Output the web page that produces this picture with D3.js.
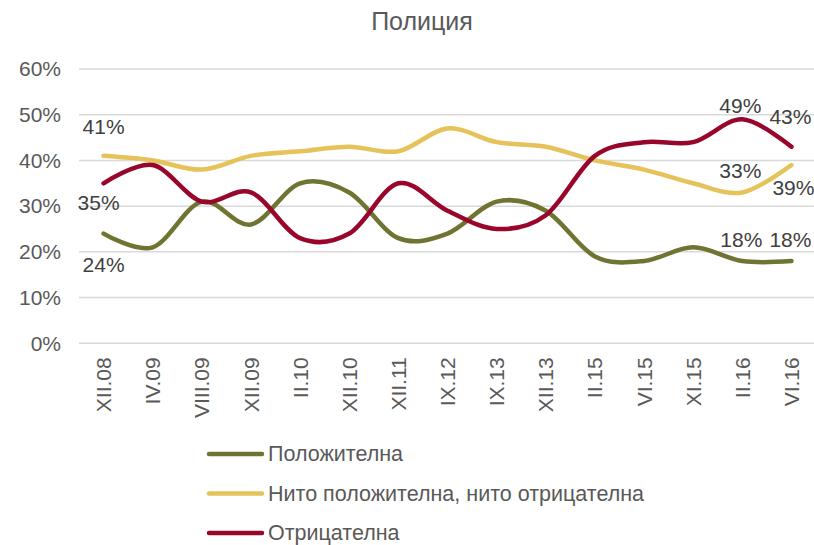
<!DOCTYPE html>
<html>
<head>
<meta charset="utf-8">
<script src="https://cdn.jsdelivr.net/npm/d3@7"></script>
<style>
  body { margin: 0; background: #fff; }
  svg { font-family: "Liberation Sans", Arial, sans-serif; }
</style>
</head>
<body>
<div id="chart"></div>
<script>
// ===== data =====
var categories = ["XII.08", "IV.09", "VIII.09", "XII.09", "II.10", "XII.10", "XII.11",
                  "IX.12", "IX.13", "XII.13", "II.15", "VI.15", "XI.15", "II.16", "VI.16"];
var positive = [24, 21, 31, 26, 35, 33, 23, 24, 31, 29, 19, 18, 21, 18, 18];
var neutral  = [41, 40, 38, 41, 42, 43, 42, 47, 44, 43, 40, 38, 35, 33, 39];
var negative = [35, 39, 31, 33, 23, 24, 35, 29, 25, 28, 41, 44, 44, 49, 43];
var seriesNames = ["Положителна", "Нито положителна, нито отрицателна", "Отрицателна"];
var yTicks = [0, 0.1, 0.2, 0.3, 0.4, 0.5, 0.6];

function draw()
{
  var w = 814;
  var h = 545;

  var colors = ["#707432", "#e5c25a", "#98072b"];
  var seriesData = [positive, neutral, negative];

  // which points get a value label, and how far the label sits from the point
  var labelSpots = [
    {s: 1, i: 0,  dx: 0,  dy: -29},
    {s: 2, i: 0,  dx: -5, dy: 19},
    {s: 0, i: 0,  dx: 0,  dy: 31},
    {s: 2, i: 13, dx: -2, dy: -14},
    {s: 2, i: 14, dx: -1, dy: -30},
    {s: 1, i: 13, dx: -2, dy: -22},
    {s: 1, i: 14, dx: 2,  dy: 22},
    {s: 0, i: 13, dx: -1, dy: -22},
    {s: 0, i: 14, dx: -1, dy: -22}
  ];

  var svg = d3.select("#chart")
              .append("svg")
              .attr("width", w)
              .attr("height", h);

  var x = d3.scaleBand()
            .domain(categories)
            .range([79, 816]);

  var y = d3.scaleLinear()
            .domain([0, 0.6])
            .range([343.3, 69]);

  function cx(i) { return x(categories[i]) + x.bandwidth() / 2; }

  // title
  svg.append("text")
     .attr("x", 422)
     .attr("y", 21)
     .attr("dy", "0.35em")
     .attr("text-anchor", "middle")
     .attr("font-size", "25px")
     .attr("fill", "#595959")
     .text("Полиция");

  // gridlines
  svg.append("g")
     .selectAll("line")
     .data(yTicks)
     .enter()
     .append("line")
     .attr("x1", 79)
     .attr("x2", 816)
     .attr("y1", function(d) { return y(d); })
     .attr("y2", function(d) { return y(d); })
     .attr("stroke", "#d9d9d9")
     .attr("stroke-width", 1.5);

  // y axis
  var yAxis = svg.append("g")
     .attr("transform", "translate(79,0)")
     .call(d3.axisLeft(y).tickValues(yTicks).tickFormat(d3.format(".0%")).tickSize(0).tickPadding(18));
  yAxis.select(".domain").remove();
  yAxis.selectAll("text")
       .attr("font-size", "21px")
       .attr("font-family", "Liberation Sans, Arial, sans-serif")
       .attr("fill", "#595959");

  // x axis, rotated labels
  var xAxis = svg.append("g")
     .attr("transform", "translate(0,343.3)")
     .call(d3.axisBottom(x).tickSize(0));
  xAxis.select(".domain").remove();
  xAxis.selectAll("text")
       .attr("transform", "rotate(-90)")
       .attr("text-anchor", "end")
       .attr("x", -14)
       .attr("y", 0)
       .attr("dy", "0.36em")
       .attr("font-size", "21px")
       .attr("font-family", "Liberation Sans, Arial, sans-serif")
       .attr("fill", "#595959");

  // smoothed lines (excel style)
  var line = d3.line()
               .x(function(d, i) { return cx(i); })
               .y(function(d) { return y(d / 100); })
               .curve(d3.curveCardinal.tension(0));

  svg.append("g")
     .selectAll("path")
     .data(seriesData)
     .enter()
     .append("path")
     .attr("d", line)
     .attr("fill", "none")
     .attr("stroke", function(d, i) { return colors[i]; })
     .attr("stroke-width", 4.5)
     .attr("stroke-linecap", "round")
     .attr("stroke-linejoin", "round");

  // value labels
  svg.append("g")
     .selectAll("text")
     .data(labelSpots)
     .enter()
     .append("text")
     .attr("x", function(d) { return cx(d.i) + d.dx; })
     .attr("y", function(d) { return y(seriesData[d.s][d.i] / 100) + d.dy; })
     .attr("dy", "0.36em")
     .attr("text-anchor", "middle")
     .attr("font-size", "21px")
     .attr("fill", "#404040")
     .text(function(d) { return seriesData[d.s][d.i] + "%"; });

  // legend
  var legend = svg.append("g")
                  .selectAll("g")
                  .data(seriesNames)
                  .enter()
                  .append("g")
                  .attr("transform", function(d, i) { return "translate(0," + (454 + i * 39.5) + ")"; });

  legend.append("line")
        .attr("x1", 209)
        .attr("x2", 262)
        .attr("stroke", function(d, i) { return colors[i]; })
        .attr("stroke-width", 4.5)
        .attr("stroke-linecap", "round");

  legend.append("text")
        .attr("x", 268)
        .attr("dy", "0.33em")
        .attr("font-size", "21.5px")
        .attr("fill", "#595959")
        .text(function(d) { return d; });
}

window.onload = draw;
</script>
</body>
</html>
